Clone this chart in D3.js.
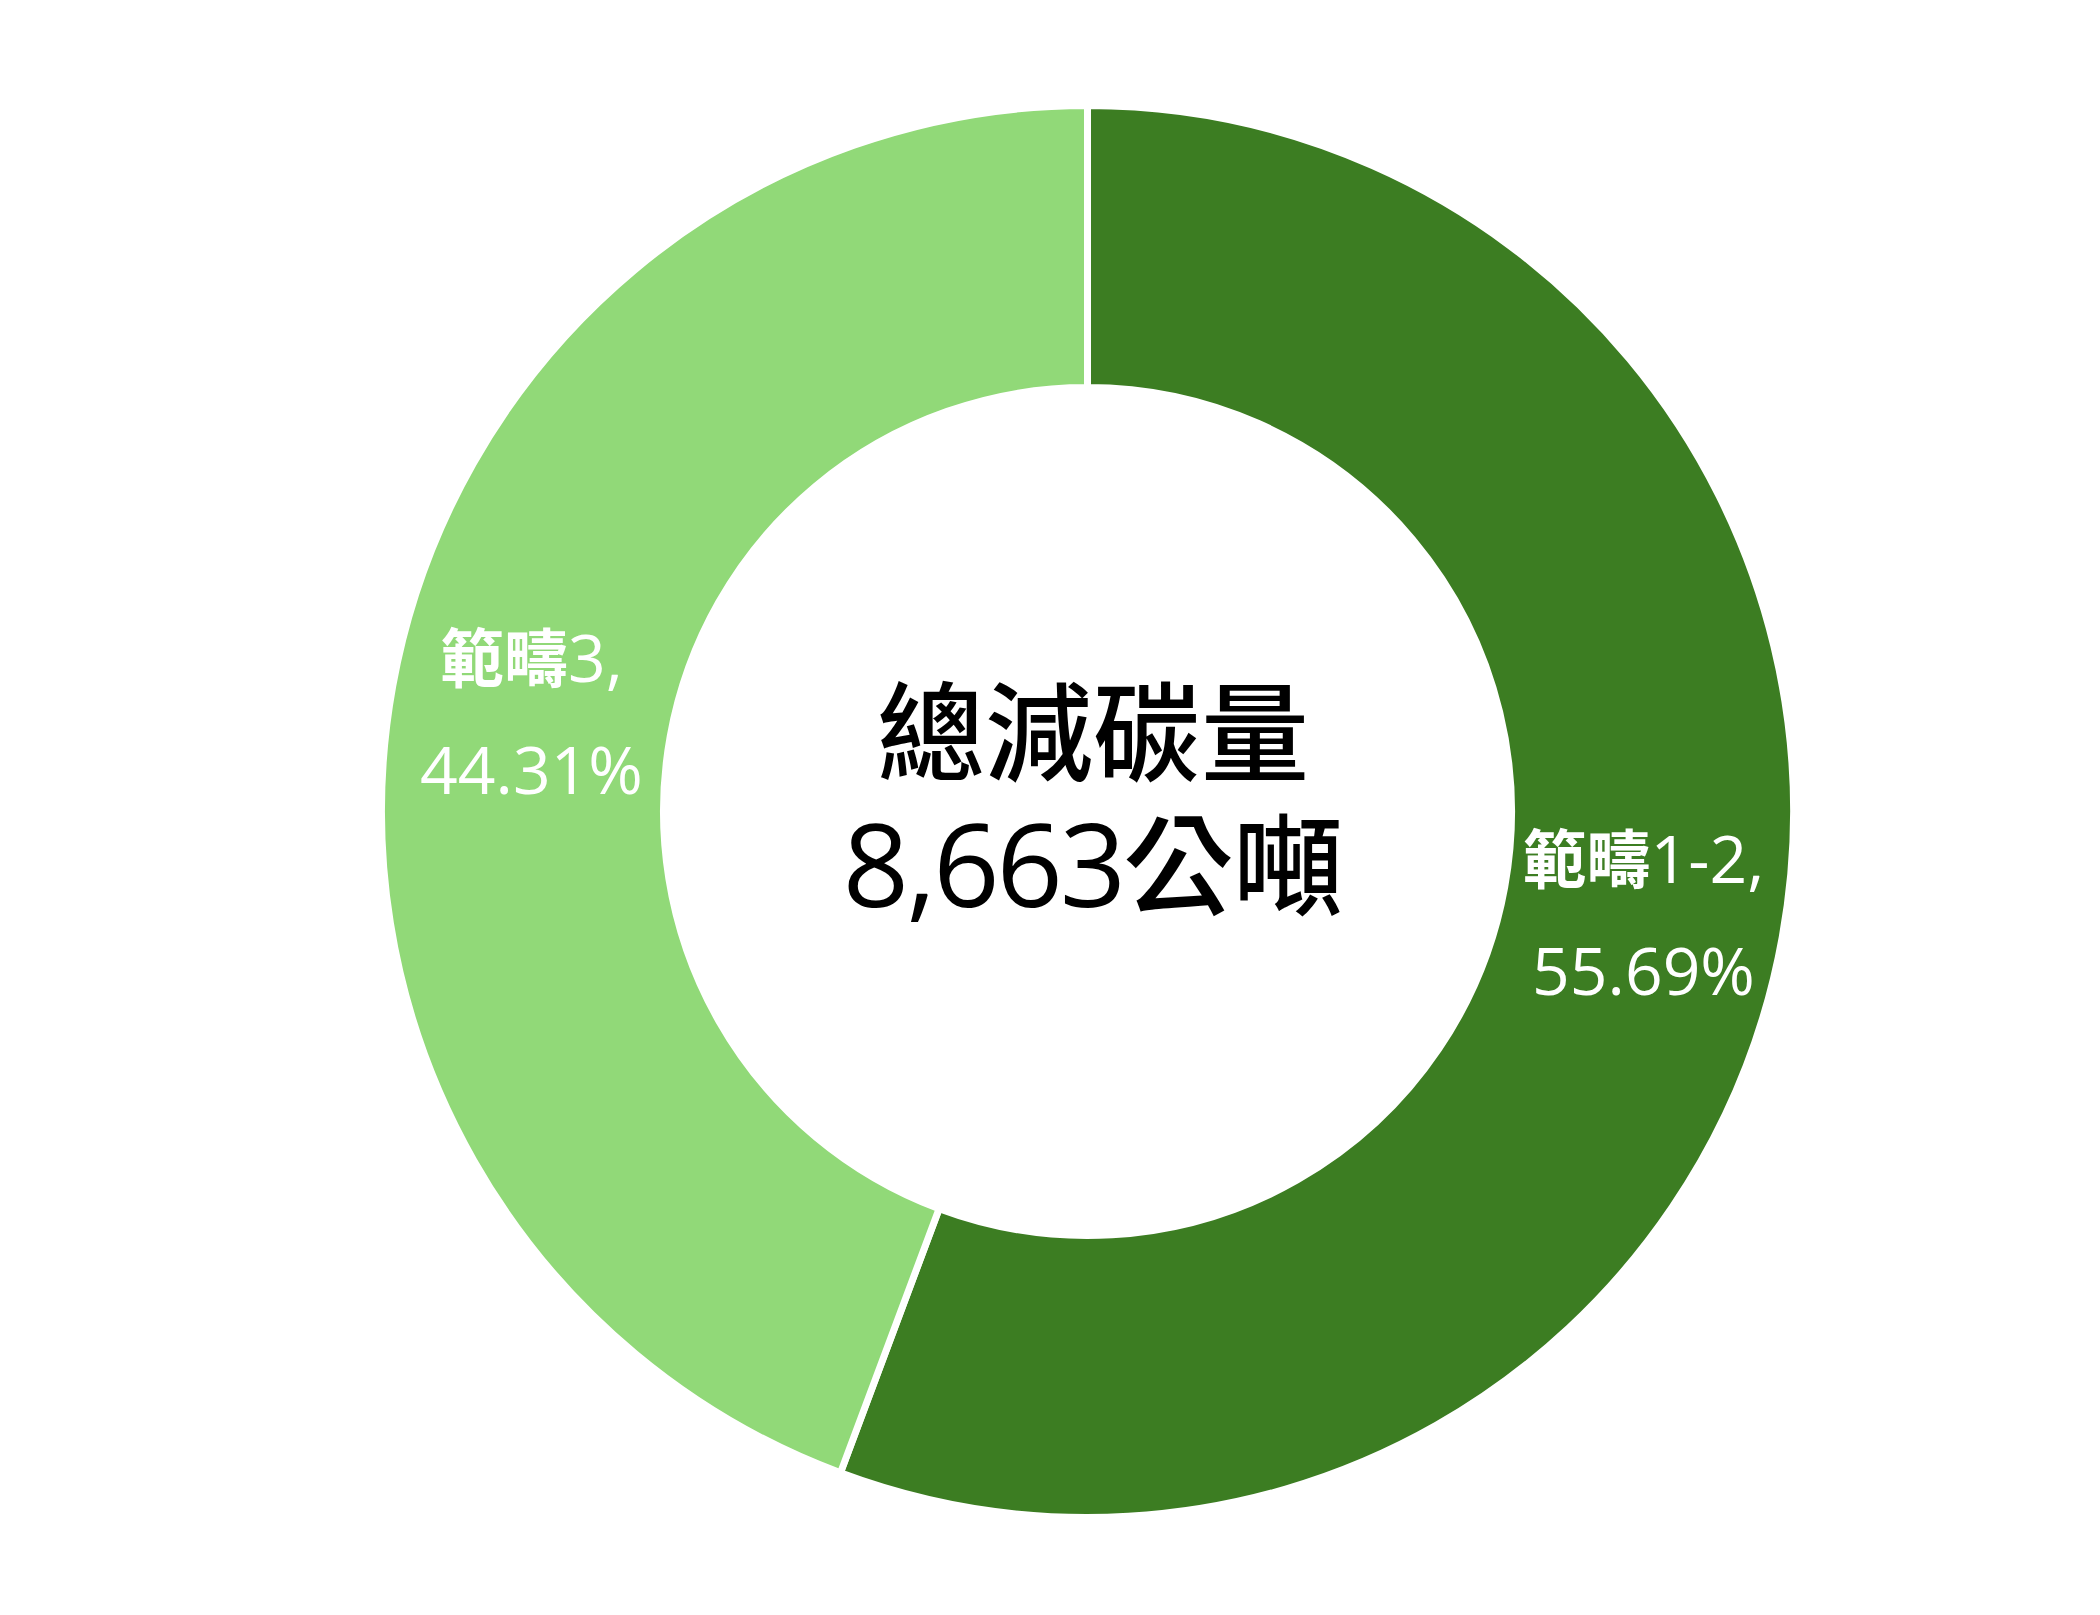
<!DOCTYPE html>
<html>
<head>
<meta charset="utf-8">
<script src="https://cdn.jsdelivr.net/npm/d3@7"></script>
<style>
    body { margin: 0; background: #fff; }
    svg text { font-family: "Open Sans", "Noto Sans CJK TC", sans-serif; }
</style>
</head>
<body>
<div id="chart"></div>
<script>
// data
var categories = ["範疇1-2", "範疇3"];
var values = [55.69, 44.31];
var colors = ["#3C7D22", "#91D978"];
var centerTitle = "總減碳量";
var centerValue = "8,663";
var centerUnit = "公噸";

var width = 2100,
    height = 1615,
    cx = 1087.5,
    cy = 811.5,
    outerR = 706,
    innerR = 424;

var svg = d3.select("#chart").append("svg")
    .attr("width", width)
    .attr("height", height);

var g = svg.append("g")
    .attr("transform", "translate(" + cx + "," + cy + ")");

var pieData = d3.pie()
    .sort(null)
    .value(function (d) { return d.value; })
    (categories.map(function (c, i) {
        return {name: c, value: values[i], color: colors[i]};
    }));

var arc = d3.arc()
    .innerRadius(innerR)
    .outerRadius(outerR);

g.selectAll(".slice")
    .data(pieData)
    .enter()
    .append("path")
    .attr("class", "slice")
    .attr("d", arc)
    .style("fill", function (d) { return d.data.color; })
    .style("stroke", "#fff")
    .style("stroke-width", 7);

// split text into CJK and latin runs so CJK can use its own weight/size
function addRuns(textSel, str, opts) {
    var re = /([\u3400-\u9fff]+)/;
    str.split(re).forEach(function (part) {
        if (!part) return;
        var isCjk = re.test(part);
        textSel.append("tspan")
            .style("font-weight", isCjk ? opts.cjkWeight : 400)
            .style("font-size", (isCjk ? opts.cjkSize : opts.latinSize) + "px")
            .style("letter-spacing", isCjk ? "0px" : (opts.latinSpacing || 0) + "px")
            .text(part);
    });
}

var labels = g.selectAll(".label")
    .data(pieData)
    .enter()
    .append("g")
    .attr("class", "label")
    .attr("transform", function (d) {
        var c = arc.centroid(d);
        return "translate(" + c[0] + "," + c[1] + ")";
    });

var labelOpts = {cjkWeight: 700, cjkSize: 64, latinSize: 66};

labels.each(function (d) {
    var sel = d3.select(this);
    var t1 = sel.append("text")
        .attr("y", -29)
        .attr("text-anchor", "middle")
        .style("fill", "#fff");
    addRuns(t1, d.data.name + ",", labelOpts);

    var t2 = sel.append("text")
        .attr("y", 83)
        .attr("text-anchor", "middle")
        .style("fill", "#fff");
    addRuns(t2, d.data.value.toFixed(2) + "%", labelOpts);
});

// center text
var textX = 1093;

var t3 = svg.append("text")
    .attr("x", textX)
    .attr("y", 773)
    .attr("text-anchor", "middle")
    .style("fill", "#000");
addRuns(t3, centerTitle, {cjkWeight: 500, cjkSize: 108, latinSize: 108});

var t4 = svg.append("text")
    .attr("x", textX)
    .attr("y", 907)
    .attr("text-anchor", "middle")
    .style("fill", "#000");
addRuns(t4, centerValue + centerUnit, {cjkWeight: 500, cjkSize: 110, latinSize: 116, latinSpacing: -3});
</script>
</body>
</html>
